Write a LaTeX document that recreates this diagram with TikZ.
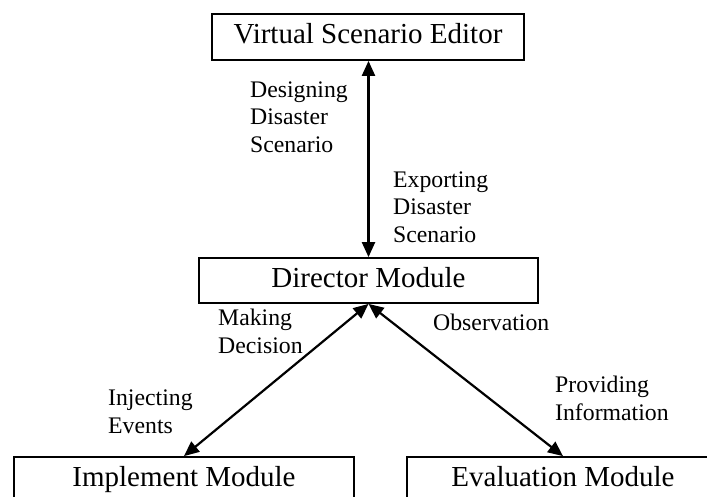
\documentclass[tikz,border=0pt]{standalone}
\usepackage{fontspec}
\setmainfont{Liberation Serif}
\usetikzlibrary{arrows.meta}
\begin{document}
\begin{tikzpicture}[x=1pt,y=-1pt,
  box/.style={draw, line width=1.8pt, inner sep=0pt, text height=20pt, text depth=6.5pt, font=\fontsize{29}{33}\selectfont},
  lbl/.style={inner sep=0pt, align=left, anchor=base west, font=\fontsize{23.75}{27.3}\selectfont},
  conn/.style={line width=2.2pt, {Triangle[length=15pt,width=13pt]}-{Triangle[length=15pt,width=13pt]}}]
\useasboundingbox (0,0) rectangle (707,496);
\node[box, minimum width=312pt, minimum height=46pt] (vse) at (368,37) {Virtual Scenario Editor};
\node[box, minimum width=339pt, minimum height=45pt] (dir) at (368.5,280.5) {Director Module};
\node[box, minimum width=340pt, minimum height=46pt] (imp) at (184,480) {Implement Module};
\node[box, minimum width=312pt, minimum height=46pt] (eva) at (563,480) {Evaluation Module};
\draw[conn] (vse.south -| dir.south) -- (dir.north);
\draw[conn] (dir.south) -- (imp.north);
\draw[conn] (dir.south) -- (eva.north);
\node[lbl] (l1) at (250,152) {Designing\\Disaster\\Scenario};
\node[lbl] (l2) at (393,242) {Exporting\\Disaster\\Scenario};
\node[lbl] (l3) at (218,353) {Making\\Decision};
\node[lbl] (l4) at (108,433) {Injecting\\Events};
\node[lbl] (l5) at (433,330) {Observation};
\node[lbl] (l6) at (555,420) {Providing\\Information};
\end{tikzpicture}
\end{document}
